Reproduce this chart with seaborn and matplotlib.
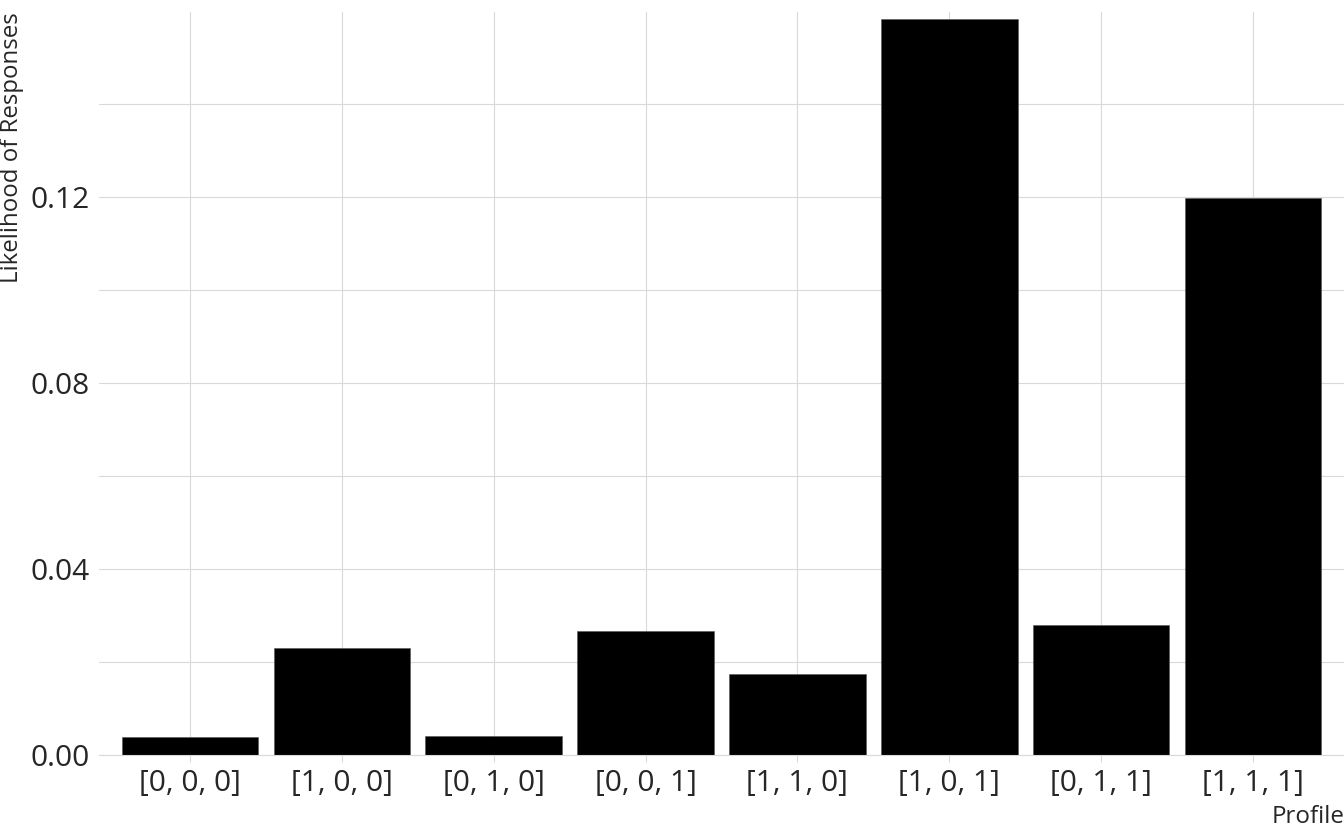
import matplotlib
matplotlib.use("Agg")
import matplotlib.pyplot as plt
import seaborn as sns
import pandas as pd
from matplotlib.ticker import MultipleLocator, FormatStrFormatter

profiles = ["[0, 0, 0]", "[1, 0, 0]", "[0, 1, 0]", "[0, 0, 1]",
            "[1, 1, 0]", "[1, 0, 1]", "[0, 1, 1]", "[1, 1, 1]"]
likelihood = [0.0039, 0.0230, 0.0040, 0.0266, 0.0174, 0.1583, 0.0279, 0.1199]

df = pd.DataFrame({"Profile": profiles, "Likelihood": likelihood})

sns.set_theme(style="whitegrid")
plt.rcParams["font.family"] = ["Open Sans", "DejaVu Sans"]

text_color = "#262626"
grid_color = "#d9d9d9"

fig = plt.figure(figsize=(13.44, 8.30), dpi=100)
ax = fig.add_axes([99 / 1344, 75 / 830, 1245 / 1344, 743 / 830])

sns.barplot(data=df, x="Profile", y="Likelihood", order=profiles,
            color="black", width=0.9, saturation=1, edgecolor="#555555",
            linewidth=0.4, ax=ax)

ax.set_xlim(-0.6, 7.6)
ax.set_ylim(0, 0.1598)
ax.yaxis.set_major_locator(MultipleLocator(0.04))
ax.yaxis.set_minor_locator(MultipleLocator(0.02))
ax.yaxis.set_major_formatter(FormatStrFormatter("%.2f"))

ax.set_axisbelow(True)
ax.grid(True, which="major", axis="both", color=grid_color, linewidth=0.8)
ax.grid(True, which="minor", axis="y", color=grid_color, linewidth=0.8)

for s in ["top", "right", "left"]:
    ax.spines[s].set_visible(False)
ax.spines["bottom"].set_visible(True)
ax.spines["bottom"].set_color(grid_color)
ax.spines["bottom"].set_linewidth(0.8)

ax.tick_params(axis="x", which="major", length=5, width=0.8, color=grid_color,
               pad=5, labelsize=21.5, labelcolor=text_color, bottom=True)
ax.tick_params(axis="y", which="both", length=0, pad=6.5,
               labelsize=21.5, labelcolor=text_color)
ax.tick_params(axis="y", which="minor", left=False)

ax.set_xlabel("Profile", fontsize=17.4, color=text_color, loc="right")
ax.xaxis.set_label_coords(1.0, -0.0911)
ax.xaxis.label.set_va("baseline")
ax.set_ylabel("Likelihood of Responses", fontsize=17.3, color=text_color, loc="top")
ax.yaxis.set_label_coords(-0.0602, 1.0)

fig.savefig("out.png", dpi=100)
